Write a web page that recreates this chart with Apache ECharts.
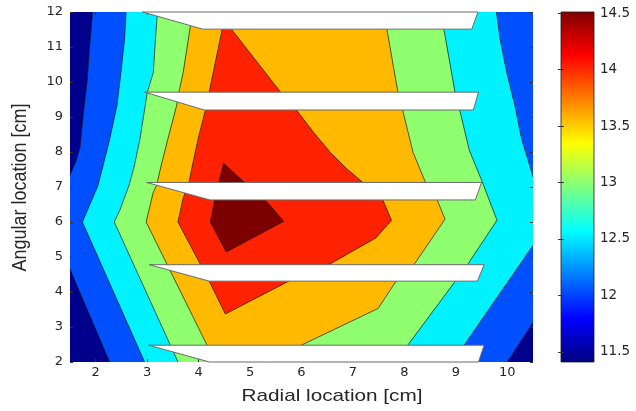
<!DOCTYPE html>
<html><head><meta charset="utf-8">
<script src="https://cdn.jsdelivr.net/npm/echarts@6/dist/echarts.min.js"></script>
<style>html,body{margin:0;padding:0;background:#fff}#c{width:636px;height:411px}</style>
</head><body><div id="c"></div>
<script>
// ---------------- data (all in axis units: cm / colour value) ----------------
const xRange = [1.5, 10.5];
const yRange = [2, 12];
const xTicks = [2, 3, 4, 5, 6, 7, 8, 9, 10];
const yTicks = [2, 3, 4, 5, 6, 7, 8, 9, 10, 11, 12];
const cbRange = [11.41, 14.51];
const cbTicks = [11.5, 12, 12.5, 13, 13.5, 14, 14.5];

// contour lines, [radial cm, angular cm]
const L1_topLeft = [[1.94,12],[1.88,11.0],[1.835,10.06],[1.76,9.1],[1.695,8.14],[1.62,7.75],[1.5,7.34]];
const L1_botLeft = [[1.5,4.65],[2.27,2]];
const L1_botRight = [[10.5,3.12],[10.0,2]];
const L2_left = [[2.59,12],[2.56,11.22],[2.49,10.27],[2.41,9.31],[2.27,8.36],[2.14,7.6],[2.04,7.03],[1.84,6.34],[1.74,6.0],[2.95,2]];
const L2_topRight = [[9.79,12],[9.86,11.22],[9.99,10.27],[10.15,9.31],[10.28,8.36],[10.42,7.69],[10.5,7.29]];
const L2_botRight = [[10.5,5.33],[9.18,2.52],[8.93,2]];
const L3_left = [[3.2,12],[3.16,11.22],[3.12,10.27],[3.0,9.69],[2.86,8.37],[2.75,7.6],[2.65,7.06],[2.47,6.34],[2.36,6.0],[3.6,2]];
const L3_right = [[8.71,12],[8.77,11.49],[8.98,9.74],[9.08,9.17],[9.26,8.06],[9.51,7.16],[9.8,6.05],[9.24,4.81],[8.98,4.29],[8.07,2.49],[7.82,2]];
const L4_left = [[3.88,12],[3.84,11.6],[3.7,10.27],[3.63,9.79],[3.57,9.31],[3.4,8.36],[3.27,7.6],[3.18,7.03],[3.12,6.86],[2.98,6.0],[4.16,2.49],[4.33,2]];
const L4_right = [[7.6,12],[7.66,11.51],[7.87,9.74],[7.97,9.17],[8.17,7.98],[8.4,7.17],[8.64,6.62],[8.79,6.08],[8.21,4.83],[7.83,4.29],[7.49,3.53],[6.01,2.49],[5.31,2]];
const L5_loop = [[4.495,11.77],[4.455,11.486],[4.214,9.771],[4.136,9.22],[3.988,8.363],[3.877,7.6],[3.812,7.123],[3.696,6.666],[3.598,6.0],[4.027,4.809],[4.214,4.286],[4.52,3.371],[5.722,4.286],[6.565,4.809],[7.45,5.55],[7.748,6.049],[7.584,6.62],[7.183,7.143],[6.891,7.506],[6.565,7.98],[6.24,8.55],[5.917,9.171],[5.591,9.714],[4.65,11.486]];
const L6_loop = [[4.487,7.677],[4.909,7.106],[5.332,6.571],[5.655,6.02],[4.539,5.143],[4.227,6.0],[4.305,6.571],[4.389,7.106]];

// fins: [tip x, top y, bottom y, bend x, right-top x, right-bottom x]
const fins = [
  [2.91, 12.0, 11.51, 4.08, 9.43, 9.31],
  [2.95, 9.71, 9.20, 4.11, 9.44, 9.34],
  [2.99, 7.13, 6.63, 4.22, 9.50, 9.38],
  [3.04, 4.78, 4.31, 4.21, 9.55, 9.42],
  [3.03, 2.48, 2.00, 4.21, 9.55, 9.44]
];

// ---------------- styles ----------------
const bandColors = ['#00008C','#0050FF','#00F2FF','#8FFF70','#FFBA00','#FF2200','#7D0000'];
const lineColor = '#151515';
const textColor = '#262626';

const rev = a => a.slice().reverse();
const x0 = xRange[0], x1 = xRange[1], y0 = yRange[0], y1 = yRange[1];
const bands = [
  [[x0,y0],[x1,y0],[x1,y1],[x0,y1]],
  [].concat(L1_topLeft, L1_botLeft, rev(L1_botRight), [[x1,y1]]),
  [].concat(L2_left, rev(L2_botRight), rev(L2_topRight)),
  [].concat(L3_left, rev(L3_right)),
  [].concat(L4_left, rev(L4_right)),
  L5_loop,
  L6_loop
];
const lines = [
  {pts: L1_topLeft}, {pts: L1_botLeft}, {pts: L1_botRight},
  {pts: L2_left}, {pts: L2_topRight}, {pts: L2_botRight},
  {pts: L3_left}, {pts: L3_right}, {pts: L4_left}, {pts: L4_right},
  {pts: L5_loop, closed: true}, {pts: L6_loop, closed: true}
];

const series = [];
bands.forEach((pts, i) => {
  series.push({
    type: 'custom', xAxisIndex: 0, yAxisIndex: 0, silent: true, z: 2,
    data: [pts[0]],
    renderItem: (params, api) => ({
      type: 'polygon',
      shape: { points: pts.map(p => api.coord(p)) },
      style: { fill: bandColors[i], stroke: null }
    })
  });
});
lines.forEach(l => {
  series.push({
    type: 'custom', xAxisIndex: 0, yAxisIndex: 0, silent: true, z: 3,
    data: [l.pts[0]],
    renderItem: (params, api) => ({
      type: l.closed ? 'polygon' : 'polyline',
      shape: { points: l.pts.map(p => api.coord(p)) },
      style: { fill: null, stroke: lineColor, lineWidth: 0.7 }
    })
  });
});
series.push({
  type: 'custom', xAxisIndex: 0, yAxisIndex: 0, silent: true, z: 6,
  dimensions: ['tip','top','bot','bend','rt','rb'],
  encode: { x: [0, 3, 4, 5], y: [1, 2] },
  data: fins,
  renderItem: (params, api) => {
    const tip = api.value(0), top = api.value(1), bot = api.value(2), bend = api.value(3), rt = api.value(4), rb = api.value(5);
    return {
      type: 'polygon',
      shape: { points: [api.coord([tip, top]), api.coord([rt, top]), api.coord([rb, bot]), api.coord([bend, bot])] },
      style: { fill: '#ffffff', stroke: '#6a6a6a', lineWidth: 1 }
    };
  }
});
// colour bar
series.push({
  type: 'custom', xAxisIndex: 2, yAxisIndex: 2, silent: true, z: 2,
  data: [[0, cbRange[0]]],
  renderItem: (params, api) => {
    const a = api.coord([0, cbRange[1]]), b = api.coord([1, cbRange[0]]);
    return {
      type: 'rect',
      shape: { x: a[0], y: a[1], width: b[0] - a[0], height: b[1] - a[1] },
      style: {
        fill: new echarts.graphic.LinearGradient(0, 0, 0, 1, [
          {offset: 0, color: '#800000'}, {offset: 0.125, color: '#ff0000'},
          {offset: 0.375, color: '#ffff00'}, {offset: 0.625, color: '#00ffff'},
          {offset: 0.875, color: '#0000ff'}, {offset: 1, color: '#000080'}
        ]),
        stroke: '#1a1a1a', lineWidth: 0.8
      }
    };
  }
});

const labelFont = { fontFamily: 'DejaVu Sans', fontSize: 13, color: textColor };
const tickStyle = { lineStyle: { color: '#333', width: 1 } };

const option = {
  backgroundColor: '#ffffff',
  animation: false,
  grid: [
    { left: 70, top: 12, width: 463, height: 350 },
    { left: 561, top: 12, width: 33, height: 350 }
  ],
  xAxis: [
    { gridIndex: 0, type: 'value', min: x0, max: x1, position: 'bottom', z: 5,
      axisLine: { show: false }, splitLine: { show: false },
      axisTick: Object.assign({ inside: true, length: 3, customValues: xTicks }, tickStyle),
      axisLabel: Object.assign({ margin: 4, customValues: xTicks }, labelFont) },
    { gridIndex: 0, type: 'value', min: x0, max: x1, position: 'top', z: 5,
      axisLine: { show: false }, splitLine: { show: false },
      axisTick: Object.assign({ inside: true, length: 3, customValues: xTicks }, tickStyle),
      axisLabel: { show: false } },
    { gridIndex: 1, type: 'value', min: 0, max: 1, show: false }
  ],
  yAxis: [
    { gridIndex: 0, type: 'value', min: y0, max: y1, interval: 1, position: 'left', z: 5,
      axisLine: { show: false }, splitLine: { show: false },
      axisTick: Object.assign({ inside: true, length: 3 }, tickStyle),
      axisLabel: Object.assign({ margin: 7 }, labelFont) },
    { gridIndex: 0, type: 'value', min: y0, max: y1, interval: 1, position: 'right', z: 5,
      axisLine: { show: false }, splitLine: { show: false },
      axisTick: Object.assign({ inside: true, length: 3 }, tickStyle),
      axisLabel: { show: false } },
    { gridIndex: 1, type: 'value', min: cbRange[0], max: cbRange[1], position: 'right', z: 5,
      axisLine: { show: false }, splitLine: { show: false },
      axisTick: Object.assign({ inside: true, length: 3, customValues: cbTicks }, tickStyle),
      axisLabel: Object.assign({ margin: 6, customValues: cbTicks }, labelFont, { fontSize: 13.5 }) },
    { gridIndex: 1, type: 'value', min: cbRange[0], max: cbRange[1], position: 'left', z: 5,
      axisLine: { show: false }, splitLine: { show: false },
      axisTick: Object.assign({ inside: true, length: 3, customValues: cbTicks }, tickStyle),
      axisLabel: { show: false } }
  ],
  graphic: [
    { type: 'text', x: 332, y: 396, scaleX: 1.22, silent: true,
      style: { text: 'Radial location [cm]', x: 0, y: 0, align: 'center', verticalAlign: 'middle',
               font: '17px "Liberation Sans", Arial, sans-serif', fill: textColor } },
    { type: 'text', x: 21, y: 187.5, rotation: Math.PI / 2, scaleY: 1.08, silent: true,
      style: { text: 'Angular location [cm]', x: 0, y: 0, align: 'center', verticalAlign: 'middle',
               font: '18px "Liberation Sans", Arial, sans-serif', fill: textColor } }
  ],
  series: series
};

const chart = echarts.init(document.getElementById('c'), null, { renderer: 'canvas' });
chart.setOption(option);
</script></body></html>
